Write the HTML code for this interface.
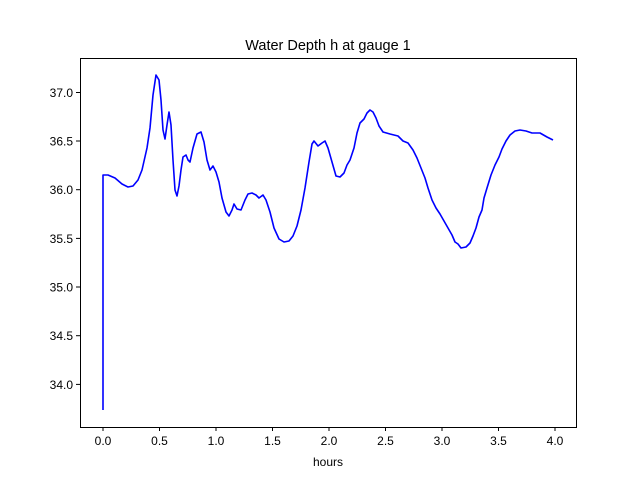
<!DOCTYPE html>
<html><head><meta charset="utf-8"><style>
body{margin:0;background:#fff;}
svg text{font-family:"Liberation Sans","DejaVu Sans",sans-serif;font-size:12px;fill:#000;}
</style></head><body>
<svg width="640" height="480" viewBox="0 0 640 480" xmlns="http://www.w3.org/2000/svg">
<rect width="640" height="480" fill="#fff"/>
<text x="328" y="50" text-anchor="middle" style="font-size:14.5px">Water Depth h at gauge 1</text>
<polyline fill="none" stroke="#0000ff" stroke-width="1.6" stroke-linejoin="round" points="103,410 103,175 108,175 115,178 122,184 128,187 133,186 138,180 142,170 147,148 150,128 153,95 156,75 159,80 161,100 163,130 165,139 167,125 169,112 171,125 173,160 175,190 177,196 179,186 181,170 183,157 186,155 188,160 190,162 193,148 197,134 201,132 204,142 207,160 210,170 213,166 216,172 219,182 222,198 226,212 229,216 232,210 234,204 237,209 241,210 245,200 248,194 252,193 256,195 259,198 263,195 266,200 270,212 274,228 279,239 284,242 289,241 293,236 297,226 301,210 305,188 309,162 312,144 314,141 318,146 322,143 325,141 328,148 332,162 336,176 340,177 344,173 347,165 350,160 354,148 357,133 360,123 364,119 367,113 370,110 373,112 376,118 379,126 383,132 390,134 398,136 403,141 408,143 413,150 417,158 421,168 425,178 428,188 432,200 436,208 440,214 444,221 448,228 452,235 455,242 458,244 461,248 466,247 470,243 473,236 476,228 479,217 482,210 484,198 487,188 491,175 495,165 499,157 502,149 506,141 510,135 515,131 520,130 526,131 532,133 540,133 547,137 553,140"/>
<rect x="80.5" y="58.5" width="496" height="369" fill="none" stroke="#000" stroke-width="1"/>
<g stroke="#000" stroke-width="1">
<line x1="103" y1="427" x2="103" y2="431"/><line x1="159.5" y1="427" x2="159.5" y2="431"/><line x1="216" y1="427" x2="216" y2="431"/><line x1="272.5" y1="427" x2="272.5" y2="431"/><line x1="329" y1="427" x2="329" y2="431"/><line x1="385.5" y1="427" x2="385.5" y2="431"/><line x1="442" y1="427" x2="442" y2="431"/><line x1="498.5" y1="427" x2="498.5" y2="431"/><line x1="555" y1="427" x2="555" y2="431"/>
<line x1="76" y1="92.5" x2="80" y2="92.5"/><line x1="76" y1="141" x2="80" y2="141"/><line x1="76" y1="189.7" x2="80" y2="189.7"/><line x1="76" y1="238.4" x2="80" y2="238.4"/><line x1="76" y1="287" x2="80" y2="287"/><line x1="76" y1="335.7" x2="80" y2="335.7"/><line x1="76" y1="384.4" x2="80" y2="384.4"/>
</g>
<g text-anchor="middle">
<text x="103" y="445">0.0</text><text x="159.5" y="445">0.5</text><text x="216" y="445">1.0</text><text x="272.5" y="445">1.5</text><text x="329" y="445">2.0</text><text x="385.5" y="445">2.5</text><text x="442" y="445">3.0</text><text x="498.5" y="445">3.5</text><text x="555" y="445">4.0</text>
<text x="328" y="466">hours</text>
</g>
<g text-anchor="end">
<text x="73" y="97">37.0</text><text x="73" y="145.5">36.5</text><text x="73" y="194">36.0</text><text x="73" y="243">35.5</text><text x="73" y="291.5">35.0</text><text x="73" y="340">34.5</text><text x="73" y="389">34.0</text>
</g>
</svg>
</body></html>
